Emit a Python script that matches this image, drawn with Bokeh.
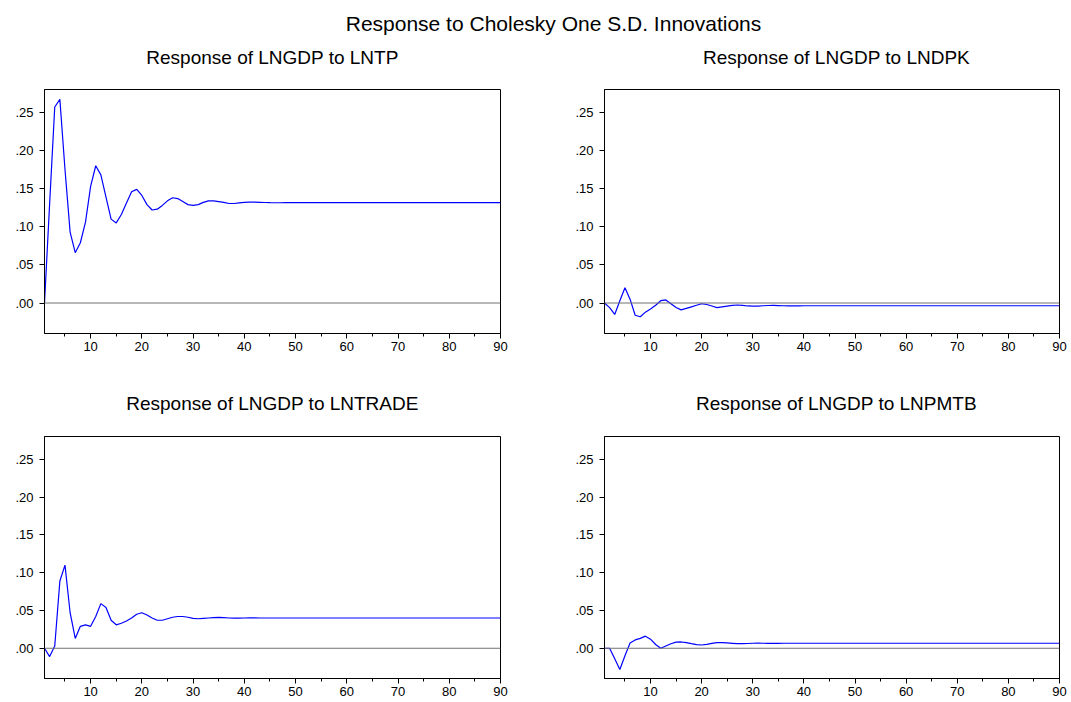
from bokeh.plotting import figure
from bokeh.models import (Range1d, Span, Label, SingleIntervalTicker, FixedTicker,
                          CustomJSTickFormatter, ColumnDataSource)
from bokeh.layouts import column, row
from bokeh.embed import file_html
from bokeh.resources import INLINE

# ---------------- data ----------------
main_title = "Response to Cholesky One S.D. Innovations"
panel_titles = ["Response of LNGDP to LNTP", "Response of LNGDP to LNDPK",
                "Response of LNGDP to LNTRADE", "Response of LNGDP to LNPMTB"]

periods = list(range(1, 91))

lntp = [0.000, 0.130, 0.257, 0.267, 0.175, 0.093, 0.066, 0.079, 0.106, 0.153,
        0.180, 0.168, 0.139, 0.110, 0.105, 0.116, 0.131, 0.146, 0.149, 0.141,
        0.129, 0.122, 0.123, 0.128, 0.134, 0.138, 0.137, 0.133, 0.129, 0.128,
        0.129, 0.132, 0.134, 0.134, 0.133, 0.132, 0.1305, 0.1305, 0.1313, 0.132,
        0.1322, 0.1322, 0.1320, 0.1318, 0.1316, 0.1315, 0.1315, 0.1316, 0.1316, 0.1316,
        0.1316, 0.1316, 0.1316, 0.1316, 0.1316, 0.1316, 0.1316, 0.1316, 0.1316, 0.1316,
        0.1316, 0.1316, 0.1316, 0.1316, 0.1316, 0.1316, 0.1316, 0.1316, 0.1316, 0.1316,
        0.1316, 0.1316, 0.1316, 0.1316, 0.1316, 0.1316, 0.1316, 0.1316, 0.1316, 0.1316,
        0.1316, 0.1316, 0.1316, 0.1316, 0.1316, 0.1316, 0.1316, 0.1316, 0.1316, 0.1316]

lndpk = [0.000, -0.006, -0.015, 0.003, 0.020, 0.005, -0.016, -0.018, -0.012, -0.008,
         -0.003, 0.003, 0.004, -0.001, -0.006, -0.009, -0.007, -0.005, -0.003, -0.001,
         -0.002, -0.004, -0.006, -0.005, -0.004, -0.003, -0.0026, -0.003, -0.0039, -0.0042,
         -0.0040, -0.0036, -0.0033, -0.0032, -0.0034, -0.0036, -0.0038, -0.0038, -0.0037, -0.0036,
         -0.0036, -0.0036, -0.0036, -0.0036, -0.0036, -0.0036, -0.0036, -0.0036, -0.0036, -0.0036,
         -0.0036, -0.0036, -0.0036, -0.0036, -0.0036, -0.0036, -0.0036, -0.0036, -0.0036, -0.0036,
         -0.0036, -0.0036, -0.0036, -0.0036, -0.0036, -0.0036, -0.0036, -0.0036, -0.0036, -0.0036,
         -0.0036, -0.0036, -0.0036, -0.0036, -0.0036, -0.0036, -0.0036, -0.0036, -0.0036, -0.0036,
         -0.0036, -0.0036, -0.0036, -0.0036, -0.0036, -0.0036, -0.0036, -0.0036, -0.0036, -0.0036]

lntrade = [0.000, -0.011, 0.003, 0.089, 0.110, 0.047, 0.013, 0.029, 0.031, 0.029,
           0.042, 0.059, 0.054, 0.037, 0.031, 0.033, 0.036, 0.040, 0.045, 0.047,
           0.044, 0.040, 0.037, 0.037, 0.039, 0.041, 0.042, 0.042, 0.041, 0.0395,
           0.039, 0.0395, 0.040, 0.0404, 0.0408, 0.0404, 0.040, 0.0398, 0.0399, 0.0400,
           0.0401, 0.0401, 0.0400, 0.0400, 0.0400, 0.0400, 0.0400, 0.0400, 0.0400, 0.0400,
           0.0400, 0.0400, 0.0400, 0.0400, 0.0400, 0.0400, 0.0400, 0.0400, 0.0400, 0.0400,
           0.0400, 0.0400, 0.0400, 0.0400, 0.0400, 0.0400, 0.0400, 0.0400, 0.0400, 0.0400,
           0.0400, 0.0400, 0.0400, 0.0400, 0.0400, 0.0400, 0.0400, 0.0400, 0.0400, 0.0400,
           0.0400, 0.0400, 0.0400, 0.0400, 0.0400, 0.0400, 0.0400, 0.0400, 0.0400, 0.0400]

lnpmtb = [0.000, 0.000, -0.014, -0.028, -0.010, 0.007, 0.011, 0.013, 0.016, 0.012,
          0.005, 0.000, 0.003, 0.006, 0.008, 0.0083, 0.0074, 0.006, 0.0048, 0.0043,
          0.0052, 0.0065, 0.0074, 0.0074, 0.007, 0.0065, 0.006, 0.006, 0.0063, 0.0066,
          0.0067, 0.0066, 0.0065, 0.0064, 0.0065, 0.0066, 0.0066, 0.0066, 0.0066, 0.0066,
          0.0066, 0.0066, 0.0066, 0.0066, 0.0066, 0.0066, 0.0066, 0.0066, 0.0066, 0.0066,
          0.0066, 0.0066, 0.0066, 0.0066, 0.0066, 0.0066, 0.0066, 0.0066, 0.0066, 0.0066,
          0.0066, 0.0066, 0.0066, 0.0066, 0.0066, 0.0066, 0.0066, 0.0066, 0.0066, 0.0066,
          0.0066, 0.0066, 0.0066, 0.0066, 0.0066, 0.0066, 0.0066, 0.0066, 0.0066, 0.0066,
          0.0066, 0.0066, 0.0066, 0.0066, 0.0066, 0.0066, 0.0066, 0.0066, 0.0066, 0.0066]

y_ticks = [0.0, 0.05, 0.10, 0.15, 0.20, 0.25]

FONT = "Liberation Sans"
W = 1071


def make_panel(values, width, height, bl, br, bt, bb):
    p = figure(width=width, height=height,
               x_range=Range1d(1, 90), y_range=Range1d(-0.04, 0.28),
               output_backend="svg", toolbar_location=None,
               min_border_left=bl, min_border_right=br,
               min_border_top=bt, min_border_bottom=bb)
    p.background_fill_color = "white"
    p.border_fill_color = "white"
    p.outline_line_color = "#000000"
    p.outline_line_width = 1
    p.xgrid.visible = False
    p.ygrid.visible = False

    p.xaxis.ticker = SingleIntervalTicker(interval=10, num_minor_ticks=2)
    p.yaxis.ticker = FixedTicker(ticks=y_ticks, minor_ticks=[])
    p.yaxis.formatter = CustomJSTickFormatter(
        code="return tick.toFixed(2).replace(/^(-?)0\\./, '$1.');")
    for ax in (p.xaxis[0], p.yaxis[0]):
        ax.axis_line_color = "#000000"
        ax.axis_line_width = 1
        ax.major_tick_line_color = "#000000"
        ax.minor_tick_line_color = "#000000"
        ax.major_tick_in = 0
        ax.minor_tick_in = 0
        ax.major_label_text_font = FONT
        ax.major_label_text_font_size = "13px"
        ax.major_label_text_color = "#000000"
    p.xaxis.major_tick_out = 5
    p.xaxis.minor_tick_out = 3
    p.xaxis.major_label_standoff = 3
    p.yaxis.major_tick_out = 5
    p.yaxis.major_label_standoff = 6

    p.add_layout(Span(location=0, dimension="width", line_color="#707070", line_width=1))
    src = ColumnDataSource(dict(t=periods, v=values))
    p.line(x="t", y="v", source=src, line_color="#0000FF", line_width=1.2)
    return p


def make_header(height):
    h = figure(width=W, height=height, x_range=Range1d(0, W), y_range=Range1d(0, height),
               x_axis_type=None, y_axis_type=None, output_backend="svg",
               toolbar_location=None, min_border=0, outline_line_color=None)
    h.xgrid.visible = False
    h.ygrid.visible = False
    return h


def add_text(h, x, y, text, size):
    h.add_layout(Label(x=x, y=y, text=text, text_align="center",
                       text_baseline="alphabetic", text_font=FONT,
                       text_font_size=size, text_color="#000000"))


# header 1: main title + top subtitles (page y 0..80)
h1 = make_header(80)
add_text(h1, 553, 80 - 23, main_title, "21px")
add_text(h1, 272, 80 - 57, panel_titles[0], "19px")
add_text(h1, 836, 80 - 57, panel_titles[1], "19px")

# top panels (page y 80..390), frames 89..333
p1 = make_panel(lntp, 555, 310, 44, 55, 9, 57)
p2 = make_panel(lndpk, 516, 310, 49, 12, 9, 57)

# header 2: bottom subtitles (page y 390..420)
h2 = make_header(30)
add_text(h2, 272, 30 - 13, panel_titles[2], "19px")
add_text(h2, 836, 30 - 13, panel_titles[3], "19px")

# bottom panels (page y 420..702), frames 436..678
p3 = make_panel(lntrade, 555, 282, 44, 55, 16, 24)
p4 = make_panel(lnpmtb, 516, 282, 49, 12, 16, 24)

layout = column(h1, row(p1, p2), h2, row(p3, p4))

open("out.html", "w").write(file_html(layout, INLINE))
